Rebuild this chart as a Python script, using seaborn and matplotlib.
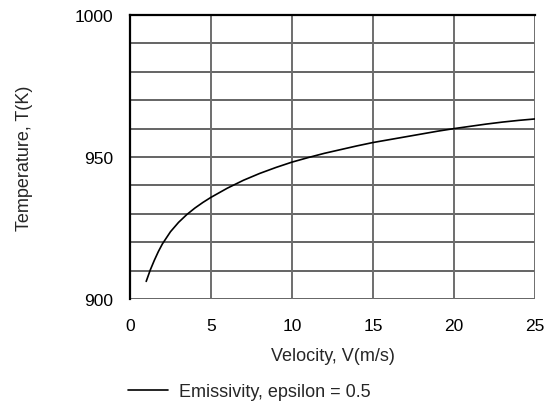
import matplotlib
matplotlib.use("Agg")
import matplotlib.pyplot as plt
import seaborn as sns
import pandas as pd
import numpy as np

velocity = [1, 1.25, 1.5, 1.75, 2, 2.5, 3, 3.5, 4, 4.5, 5, 6, 7, 8, 9, 10, 11,
            12, 13, 14, 15, 16, 17, 18, 19, 20, 21, 22, 23, 24, 25]
temperature = [906.2, 910.2, 913.6, 916.7, 919.4, 923.7, 927.0, 929.7, 932.0,
               934.0, 935.8, 939.0, 941.8, 944.2, 946.3, 948.2, 949.8, 951.3,
               952.6, 953.9, 955.1, 956.1, 957.1, 958.1, 959.1, 960.0, 960.8,
               961.6, 962.3, 962.9, 963.4]
series_label = "Emissivity, epsilon = 0.5"
x_ticks = [0, 5, 10, 15, 20, 25]
y_ticks = [900, 950, 1000]
y_grid = [900, 910, 920, 930, 940, 950, 960, 970, 980, 990, 1000]

df = pd.DataFrame({"V": velocity, "T": temperature, "series": series_label})

sns.set_style("white")
plt.rcParams["font.family"] = ["Liberation Sans", "DejaVu Sans"]

fig = plt.figure(figsize=(5.47, 4.06), dpi=100)
ax = fig.add_axes([130 / 547, 1 - 300 / 406, 405 / 547, 284 / 406])

for yv in y_grid:
    ax.axhline(yv, color="#3a3a3a", lw=1.1, zorder=1)
for xv in x_ticks[1:]:
    ax.axvline(xv, color="#6e6e6e", lw=1.4, zorder=1)

sns.lineplot(data=df, x="V", y="T", hue="series", palette=["black"], ax=ax,
             lw=1.2, zorder=3)

ax.set_xlim(0, 25)
ax.set_ylim(900, 1000)
ax.set_xticks(x_ticks)
ax.set_yticks(y_ticks)
ax.tick_params(axis="both", direction="out", width=1, labelsize=12.5,
               labelcolor="black")
ax.tick_params(axis="y", length=7, pad=5, color="#707070")
ax.tick_params(axis="x", length=6, pad=8, color="#202020")
for s in ["right", "bottom"]:
    ax.spines[s].set_visible(False)
for s in ["left", "top"]:
    ax.spines[s].set_visible(True)
    ax.spines[s].set_color("black")
    ax.spines[s].set_linewidth(1.6)

ax.set_xlabel("Velocity, V(m/s)", fontsize=13, labelpad=10)
ax.set_ylabel("Temperature, T(K)", fontsize=13, labelpad=30)

leg = ax.legend(loc="upper center", bbox_to_anchor=(0.294, -0.297), frameon=False,
                fontsize=13, handlelength=2.2, handletextpad=0.6,
                borderpad=0, borderaxespad=0)
for h in leg.get_lines():
    h.set_linewidth(1.2)

fig.savefig("out.png", dpi=100, facecolor="white")
